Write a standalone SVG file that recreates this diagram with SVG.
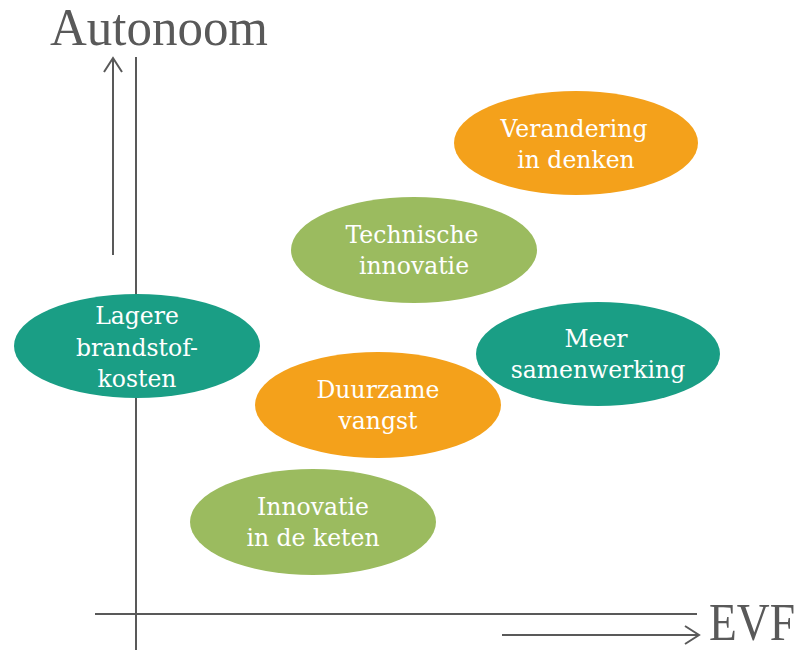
<svg xmlns="http://www.w3.org/2000/svg" width="804" height="650" viewBox="0 0 804 650">
<style>
.ax{stroke:#595959;stroke-width:2;fill:none}
.lbl{font-family:"DejaVu Serif","Liberation Serif",serif;fill:#ffffff;font-size:23.5px;text-anchor:middle}
.big{font-family:"Liberation Serif",serif;fill:#595959;font-size:52px}
.or{fill:#F4A11B}.gr{fill:#9BBB5F}.te{fill:#1A9E85}
</style>
<rect width="804" height="650" fill="#ffffff"/>
<g id="connectors">
<line class="ax" x1="136" y1="57" x2="136" y2="650"/>
<line class="ax" x1="95" y1="614" x2="697" y2="614"/>
<line class="ax" x1="113" y1="255" x2="113" y2="58"/>
<polyline class="ax" points="104,72 113,58 122,72"/>
<line class="ax" x1="502" y1="635" x2="699" y2="635"/>
<polyline class="ax" points="685,626 699,635 685,644"/>
</g>
<text class="big" x="50" y="45" textLength="218" lengthAdjust="spacingAndGlyphs">Autonoom</text>
<text class="big" x="709" y="640" font-size="48" textLength="86" lengthAdjust="spacingAndGlyphs">EVF</text>
<g id="n1"><ellipse class="or" cx="576" cy="143" rx="122" ry="52"/><text class="lbl" x="574" y="137">Verandering</text><text class="lbl" x="576" y="168">in denken</text></g>
<g id="n2"><ellipse class="gr" cx="414" cy="250" rx="123" ry="53"/><text class="lbl" x="412" y="243">Technische</text><text class="lbl" x="414" y="274">innovatie</text></g>
<g id="n3"><ellipse class="te" cx="137" cy="346" rx="123" ry="52"/><text class="lbl" x="137" y="324">Lagere</text><text class="lbl" x="137" y="356">brandstof-</text><text class="lbl" x="137" y="387">kosten</text></g>
<g id="n4"><ellipse class="te" cx="598" cy="354" rx="122" ry="52"/><text class="lbl" x="596" y="347">Meer</text><text class="lbl" x="598" y="378">samenwerking</text></g>
<g id="n5"><ellipse class="or" cx="378" cy="405" rx="123" ry="53"/><text class="lbl" x="378" y="398">Duurzame</text><text class="lbl" x="378" y="429">vangst</text></g>
<g id="n6"><ellipse class="gr" cx="313" cy="522" rx="123" ry="53"/><text class="lbl" x="313" y="515">Innovatie</text><text class="lbl" x="313" y="546">in de keten</text></g>
</svg>
